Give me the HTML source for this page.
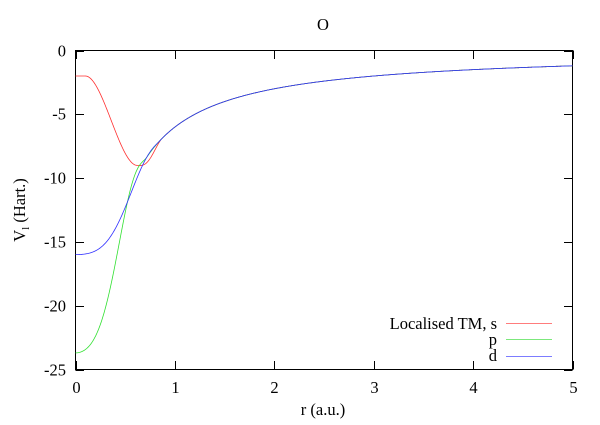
<!DOCTYPE html>
<html><head><meta charset="utf-8"><style>
html,body{margin:0;padding:0;background:#fff}
svg text{font-family:"Liberation Serif",serif;font-size:16.5px;fill:#000}
</style></head><body>
<svg id="s" width="600" height="420" xmlns="http://www.w3.org/2000/svg">
<rect x="0" y="0" width="600" height="420" fill="#fff"/>
<g id="ticks" stroke="#000" stroke-width="1"></g>
<rect x="75.5" y="50.5" width="497" height="319" fill="none" stroke="#000" stroke-width="1"/>
<text x="323" y="30" text-anchor="middle">O</text>
<text x="323" y="415" text-anchor="middle">r (a.u.)</text>
<text transform="translate(25,210) rotate(-90)" text-anchor="middle">V<tspan font-size="11" dy="4">l</tspan><tspan dy="-4"> (Hart.)</tspan></text>
<g id="lab"></g>
<path id="pr" fill="none" stroke="#ff3030" stroke-width="0.8"/>
<path id="pg" fill="none" stroke="#30e030" stroke-width="0.8"/>
<path id="pb" fill="none" stroke="#3030ff" stroke-width="0.8"/>
<text x="497" y="329" text-anchor="end">Localised TM, s</text>
<text x="497" y="345" text-anchor="end">p</text>
<text x="497" y="361" text-anchor="end">d</text>
<line x1="506" y1="323.5" x2="552" y2="323.5" stroke="#ff5050" stroke-width="0.8"/>
<line x1="506" y1="339.5" x2="552" y2="339.5" stroke="#50e050" stroke-width="0.8"/>
<line x1="506" y1="356.5" x2="552" y2="356.5" stroke="#5050ff" stroke-width="0.8"/>
</svg>
<script>
var X=function(r){return 75.5+r*99.4},Y=function(v){return 50.5+(-v)*12.76};
var tk=document.getElementById('ticks'),lab=document.getElementById('lab'),ns='http://www.w3.org/2000/svg';
function el(p,t,a,txt){var e=document.createElementNS(ns,t);for(var k in a)e.setAttribute(k,a[k]);if(txt!==undefined)e.textContent=txt;p.appendChild(e);}
for(var i=0;i<=5;i++){var x=Math.round(X(i))+0.5;el(tk,'line',{x1:x,y1:369.5,x2:x,y2:361});el(tk,'line',{x1:x,y1:50.5,x2:x,y2:59});el(lab,'text',{x:x,y:393,'text-anchor':'middle'},i);}
for(var j=0;j<=5;j++){var v=-5*j,y=Math.round(Y(v))+0.5;el(tk,'line',{x1:75.5,y1:y,x2:84,y2:y});el(tk,'line',{x1:572.5,y1:y,x2:564,y2:y});el(lab,'text',{x:66,y:y+5,'text-anchor':'end'},v);}
function tail(r){return -6/r;}
function ss(t){t=Math.max(0,Math.min(1,t));return t*t*(3-2*t);}
function solve(M,b){var n=b.length;for(var i=0;i<n;i++){var p=i;for(var k=i+1;k<n;k++)if(Math.abs(M[k][i])>Math.abs(M[p][i]))p=k;var t=M[i];M[i]=M[p];M[p]=t;t=b[i];b[i]=b[p];b[p]=t;for(var k=i+1;k<n;k++){var f=M[k][i]/M[i][i];for(var j=i;j<n;j++)M[k][j]-=f*M[i][j];b[k]-=f*b[i];}}var x=new Array(n);for(var i=n-1;i>=0;i--){var s=b[i];for(var j=i+1;j<n;j++)s-=M[i][j]*x[j];x[i]=s/M[i][i];}return x;}
function fit(v0,r0,pts){var T=-6/r0,S=6/(r0*r0);var M=[[1,1,1,1],[2,4,6,8]],b=[T-v0,S*r0];pts.forEach(function(p){var u=p[0]/r0,u2=u*u;M.push([u2,u2*u2,u2*u2*u2,u2*u2*u2*u2]);b.push(p[1]-v0);});var c=solve(M,b);return function(r){if(r>=r0)return tail(r);var u2=(r/r0)*(r/r0);return v0+c[0]*u2+c[1]*u2*u2+c[2]*u2*u2*u2+c[3]*u2*u2*u2*u2;};}
function red(r){if(r<0.1)return -2;if(r<0.62)return -2-7*ss((r-0.1)/0.52);if(r<0.87){var s=ss((r-0.62)/0.25);return (1-s)*-9+s*tail(r);}return tail(r);}
var green=fit(-23.7,0.72,[[0.3,-20.2],[0.5,-12.7]]),blue=fit(-16,0.85,[[0.3,-15.1],[0.5,-12.3]]);
function path(f){var d='';for(var k=0;k<=1000;k++){var r=k*0.005;d+=(k?'L':'M')+X(r).toFixed(2)+','+Y(f(r)).toFixed(2);}return d;}
document.getElementById('pr').setAttribute('d',path(red));
document.getElementById('pg').setAttribute('d',path(green));
document.getElementById('pb').setAttribute('d',path(blue));
</script>
</body></html>
